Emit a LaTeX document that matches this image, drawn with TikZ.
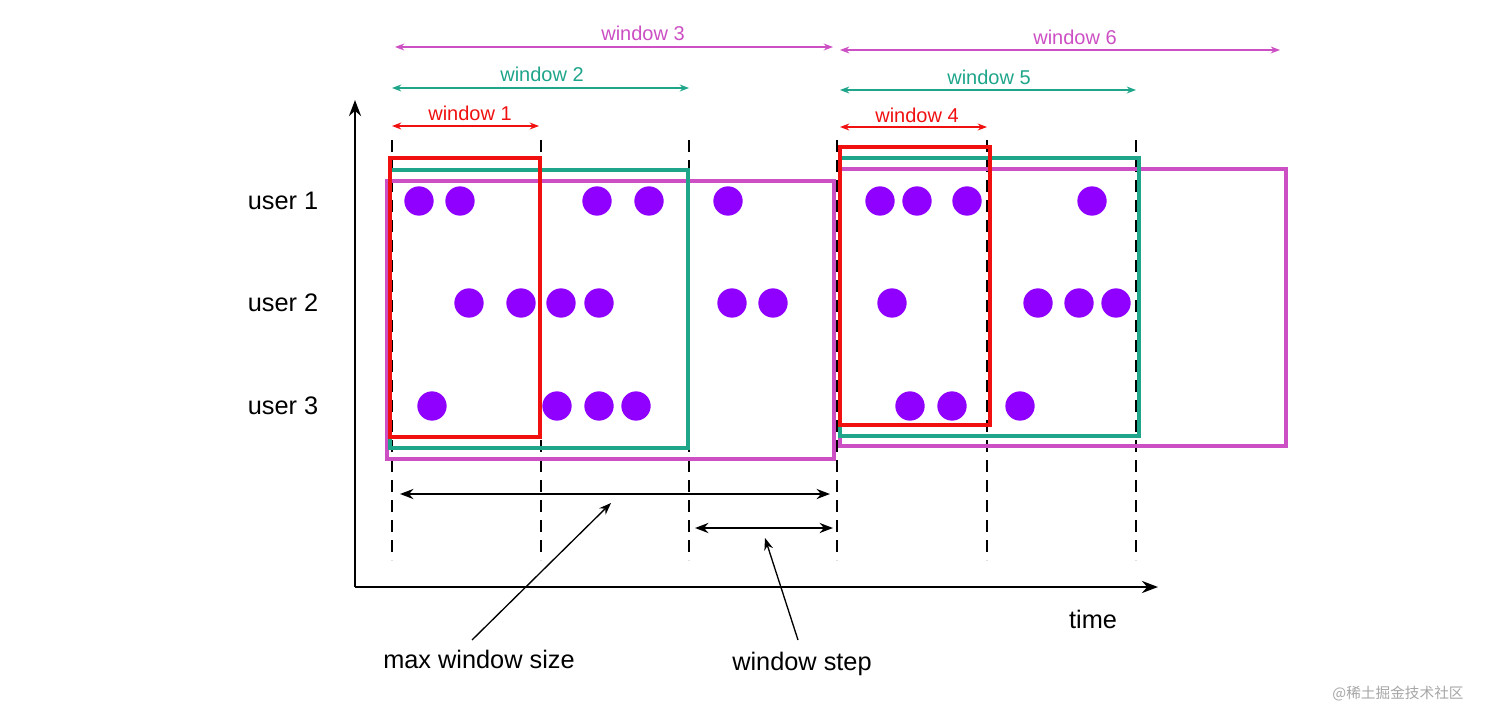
\documentclass[tikz,border=0pt]{standalone}
\usepackage{fontspec}
\setmainfont{Liberation Sans}
\newfontfamily\cjk{Noto Sans CJK SC}
\usetikzlibrary{arrows.meta}
\definecolor{winred}{HTML}{F01010}
\definecolor{winteal}{HTML}{1FA58A}
\definecolor{winpink}{HTML}{CC4FC4}
\definecolor{dotviolet}{HTML}{8F00FF}
\tikzset{
  winbox/.style={line width=2.6pt},
  winspan/.style={{Stealth[length=7pt]}-{Stealth[length=7pt]}, line width=1pt},
  winlabel/.style={font=\fontsize{15}{15}\selectfont, inner sep=0pt},
  event/.style={circle, fill=dotviolet, minimum size=22pt, inner sep=0pt},
  userlabel/.style={font=\fontsize{19}{19}\selectfont},
  cut/.style={dashed, line width=1.4pt, dash pattern=on 9pt off 6pt},
  span/.style={{Stealth[length=10pt]}-{Stealth[length=10pt]}, line width=1.8pt},
}
\begin{document}
\begin{tikzpicture}[x=0.75pt, y=-0.75pt]
\useasboundingbox (0,0) rectangle (1494,716);
% Axes.
\draw[line width=2.2pt, -{Stealth[length=12pt]}] (355,587) -- (355,100);
\draw[line width=2.2pt, -{Stealth[length=12pt]}] (355,587) -- (1158,587);
\node[userlabel] (time) at (1093,619) {time};
% Window boundaries.
\foreach \x in {392,541,689,837,987,1136}
  \draw[cut] (\x,140) -- (\x,560);
% Window frames.
\draw[winbox, winpink] (387,181) rectangle (834,459);
\draw[winbox, winteal] (390,170) rectangle (688,448);
\draw[winbox, winred] (390,158) rectangle (540,437);
\draw[winbox, winpink] (840,169) rectangle (1286,446);
\draw[winbox, winteal] (840,158) rectangle (1139,436);
\draw[winbox, winred] (840,147) rectangle (990,425);
% Window spans on top.
\draw[winspan, winred] (392,126) -- (539,126);
\node[winlabel, winred] (w1) at (470,113) {window 1};
\draw[winspan, winteal] (392,88) -- (689,88);
\node[winlabel, winteal] (w2) at (542,74) {window 2};
\draw[winspan, winpink] (395,47) -- (833,47);
\node[winlabel, winpink] (w3) at (643,33) {window 3};
\draw[winspan, winred] (840,127) -- (987,127);
\node[winlabel, winred] (w4) at (917,115) {window 4};
\draw[winspan, winteal] (840,90) -- (1136,90);
\node[winlabel, winteal] (w5) at (989,77) {window 5};
\draw[winspan, winpink] (840,50) -- (1280,50);
\node[winlabel, winpink] (w6) at (1075,37) {window 6};
% Users and events.
\node[userlabel] (u1) at (283,201) {user 1};
\node[userlabel] (u2) at (283,303) {user 2};
\node[userlabel] (u3) at (283,406) {user 3};
\foreach \x in {419,460,597,649,728,880,917,967,1092}
  \node[event] at (\x,201) {};
\foreach \x in {469,521,561,599,732,773,892,1038,1079,1116}
  \node[event] at (\x,303) {};
\foreach \x in {432,557,599,636,910,952,1020}
  \node[event] at (\x,406) {};
% Size and step.
\draw[span] (400,494) -- (830,494);
\draw[span] (695,528) -- (833,528);
\coordinate (sizetip) at (611,503);
\coordinate (steptip) at (765,538);
\node[userlabel] (size) at (479,659) {max window size};
\node[userlabel] (step) at (802,664) {window step};
\draw[line width=1pt, -{Stealth[length=9pt]}] (472,640) -- (sizetip);
\draw[line width=1pt, -{Stealth[length=9pt]}] (798,640) -- (steptip);
\node[font=\cjk\fontsize{11}{11}\selectfont, text=gray!70] (mark) at (1398,694) {@稀土掘金技术社区};
\end{tikzpicture}
\end{document}
